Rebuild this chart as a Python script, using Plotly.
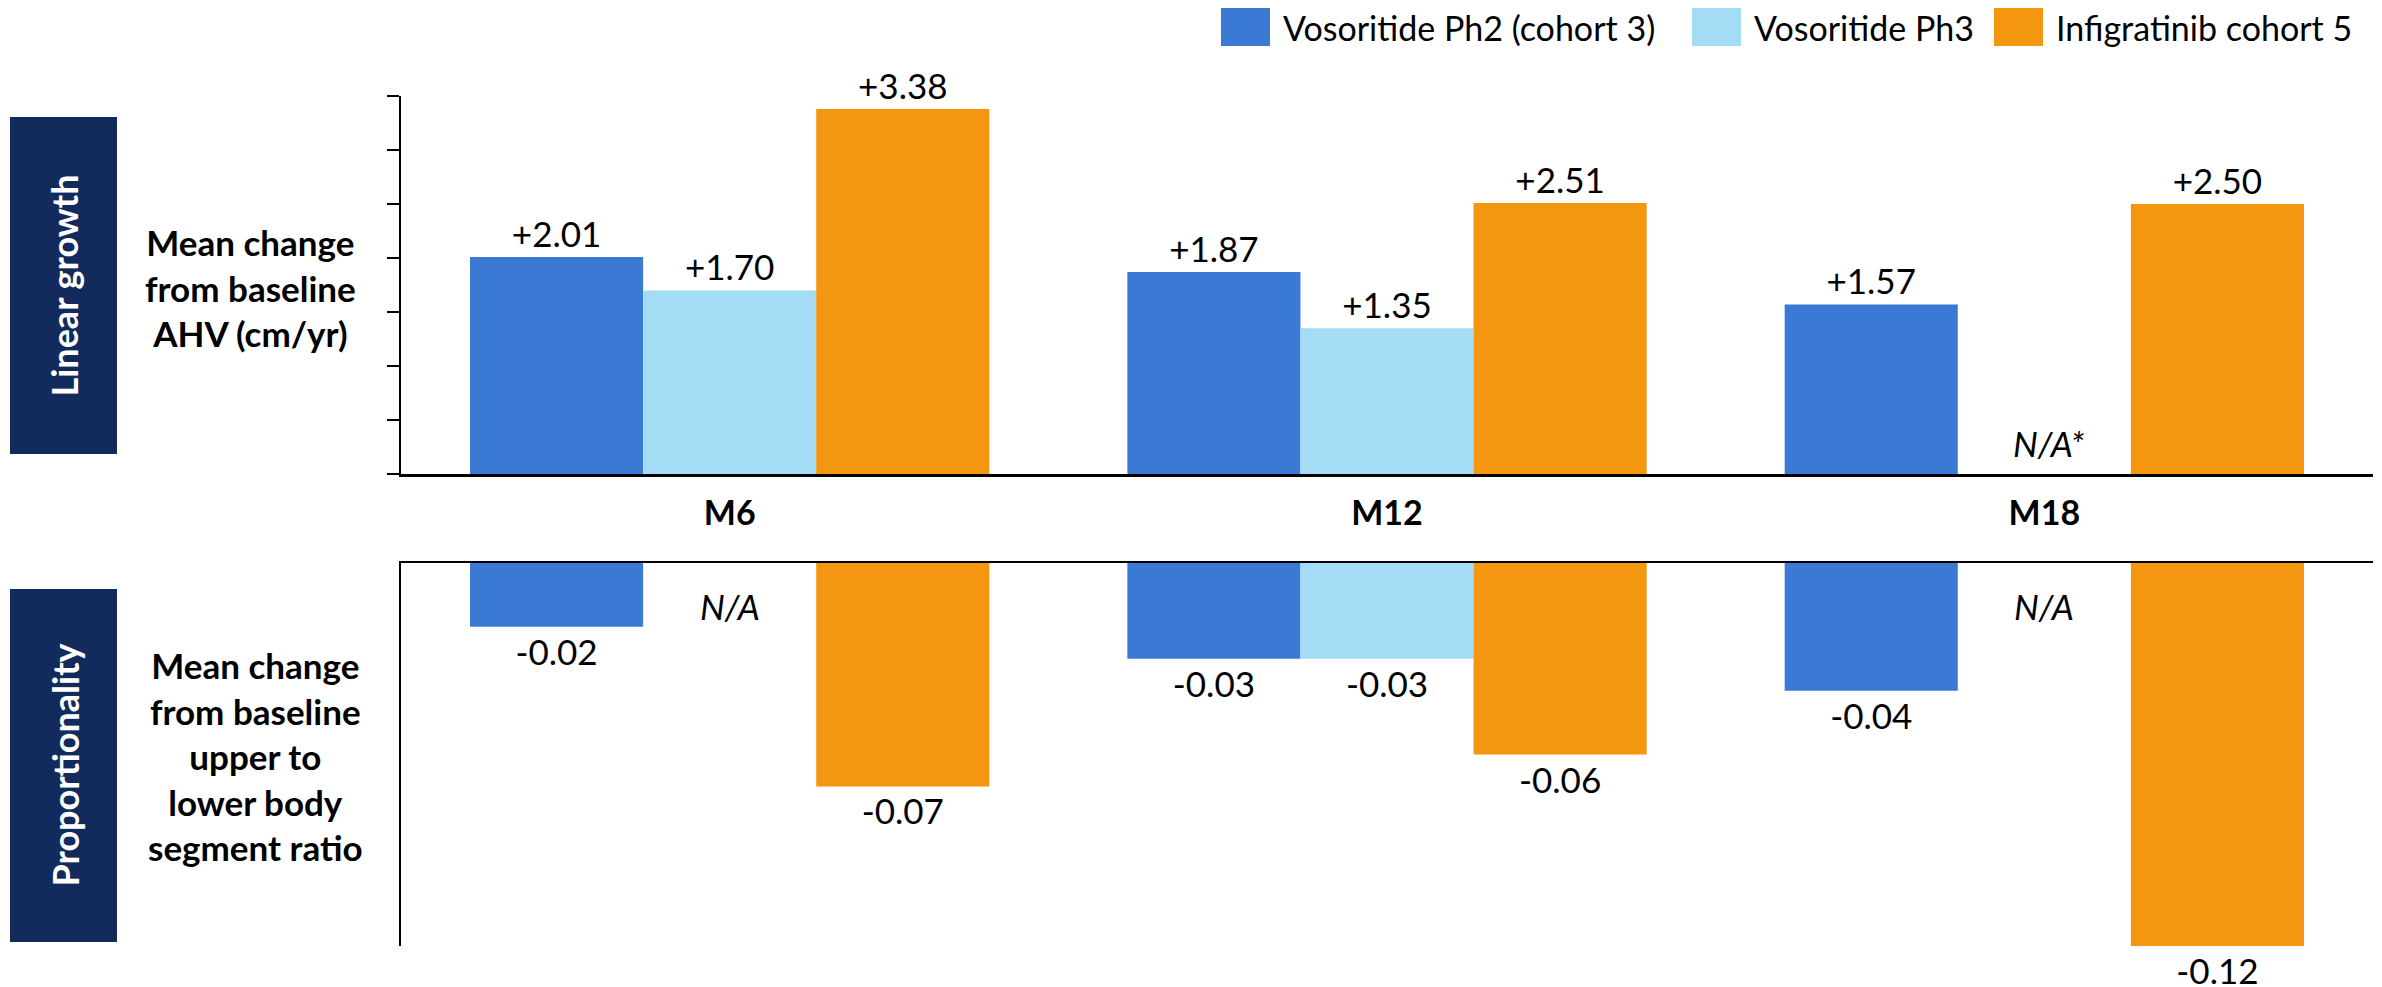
import plotly.graph_objects as go

W, H = 2382, 987
OFF = 8  # page body margin of the html page

categories = ["M6", "M12", "M18"]
series_names = ["Vosoritide Ph2 (cohort 3)", "Vosoritide Ph3", "Infigratinib cohort 5"]
series_colors = ["#3A79D4", "#A4DCF5", "#F4960F"]

# Linear growth: mean change from baseline AHV (cm/yr)
ahv_ph2 = [2.01, 1.87, 1.57]
ahv_ph3 = [1.70, 1.35, None]
ahv_infig = [3.38, 2.51, 2.50]

# Proportionality: mean change in upper to lower body segment ratio
ratio_ph2 = [-0.02, -0.03, -0.04]
ratio_ph3 = [None, -0.03, None]
ratio_infig = [-0.07, -0.06, -0.12]

na_top = ["", "", "N/A*"]
na_bottom = ["N/A", "", "N/A"]

top_tickvals = [0, 0.5, 1.0, 1.5, 2.0, 2.5, 3.0, 3.5]

FONT = "Lato"
NAVY = "#122A5C"


def px_x(p):
    return (p - OFF) / W


def px_y(p):
    return 1 - (p - OFF) / H


def fmt(vals, signed):
    out = []
    for v in vals:
        if v is None:
            out.append("")
        else:
            out.append(f"{v:+.2f}" if signed else f"{v:.2f}")
    return out


fig = go.Figure()

top_series = [ahv_ph2, ahv_ph3, ahv_infig]
bot_series = [ratio_ph2, ratio_ph3, ratio_infig]

for name, color, vals in zip(series_names, series_colors, top_series):
    fig.add_trace(go.Bar(
        x=categories, y=vals, name=name, marker=dict(color=color, line=dict(width=0)),
        text=fmt(vals, True), textposition="outside", cliponaxis=False,
        textfont=dict(family=FONT, size=35, color="black"),
        xaxis="x", yaxis="y", showlegend=False, hoverinfo="skip",
    ))

for name, color, vals in zip(series_names, series_colors, bot_series):
    fig.add_trace(go.Bar(
        x=categories, y=vals, name=name, marker=dict(color=color, line=dict(width=0)),
        text=fmt(vals, False), textposition="outside", cliponaxis=False,
        textfont=dict(family=FONT, size=35, color="black"),
        xaxis="x2", yaxis="y2", showlegend=False, hoverinfo="skip",
    ))

x_dom = [px_x(401), px_x(2373)]

fig.update_layout(
    width=W, height=H,
    margin=dict(l=0, r=0, t=0, b=0),
    paper_bgcolor="white", plot_bgcolor="white",
    barmode="group", bargap=0.21, bargroupgap=0,
    font=dict(family=FONT, color="black"),
    xaxis=dict(domain=x_dom, anchor="y", type="category", categoryorder="array",
               categoryarray=categories, range=[-0.5, 2.5],
               showline=True, linecolor="black", linewidth=3, ticks="",
               showgrid=False, zeroline=False,
               tickfont=dict(family=FONT, size=34, color="black", weight="bold"),
               ticklabelstandoff=7),
    yaxis=dict(domain=[px_y(474), px_y(96)], anchor="x", range=[0, 3.5],
               tickvals=top_tickvals, showticklabels=False, ticks="outside",
               ticklen=12, tickwidth=2, tickcolor="black",
               showline=True, linecolor="black", linewidth=2,
               showgrid=False, zeroline=False),
    xaxis2=dict(domain=x_dom, anchor="y2", type="category", categoryorder="array",
                categoryarray=categories, range=[-0.5, 2.5], side="top",
                showline=True, linecolor="black", linewidth=2, ticks="",
                showticklabels=False, showgrid=False, zeroline=False),
    yaxis2=dict(domain=[px_y(946), px_y(563)], anchor="x2", range=[-0.12, 0],
                showticklabels=False, ticks="", showline=True, linecolor="black",
                linewidth=2, showgrid=False, zeroline=False),
)

annotations = []
shapes = []

# N/A labels (placed at the middle slot of each group)
for cat, t in zip(categories, na_top):
    if t:
        annotations.append(dict(x=cat, y=0, xref="x", yref="y", text=t, showarrow=False,
                                yanchor="bottom", yshift=8, xshift=5,
                                font=dict(family=FONT, size=35, color="black", style="italic")))
for cat, t in zip(categories, na_bottom):
    if t:
        annotations.append(dict(x=cat, y=0, xref="x2", yref="y2", text=t, showarrow=False,
                                yanchor="top", yshift=-20,
                                font=dict(family=FONT, size=35, color="black", style="italic")))

# Left navy boxes
for (y0, y1, label) in [(117, 454, "Linear growth"), (589, 942, "Proportionality")]:
    shapes.append(dict(type="rect", xref="paper", yref="paper",
                       x0=px_x(10), x1=px_x(117), y0=px_y(y1), y1=px_y(y0),
                       fillcolor=NAVY, line=dict(width=0), layer="below"))
    annotations.append(dict(x=px_x(64), y=px_y((y0 + y1) / 2), xref="paper", yref="paper",
                            text="<b>" + label + "</b>", textangle=-90, showarrow=False,
                            xanchor="center", yanchor="middle",
                            font=dict(family=FONT, size=36, color="white")))

# Row descriptions
annotations.append(dict(x=px_x(250), y=px_y(287), xref="paper", yref="paper",
                        text="<b>Mean change<br>from baseline<br>AHV (cm/yr)</b>",
                        showarrow=False, align="center", xanchor="center", yanchor="middle",
                        font=dict(family=FONT, size=35, color="black")))
annotations.append(dict(x=px_x(256), y=px_y(756), xref="paper", yref="paper",
                        text="<b>Mean change<br>from baseline<br>upper to<br>lower body<br>segment ratio</b>",
                        showarrow=False, align="center", xanchor="center", yanchor="middle",
                        font=dict(family=FONT, size=35, color="black")))

# Legend (custom swatches)
legend_swatch_x = [1221, 1692, 1994]
for name, color, sx in zip(series_names, series_colors, legend_swatch_x):
    shapes.append(dict(type="rect", xref="paper", yref="paper",
                       x0=px_x(sx), x1=px_x(sx + 49), y0=px_y(46), y1=px_y(8),
                       fillcolor=color, line=dict(width=0)))
    annotations.append(dict(x=px_x(sx + 60), y=px_y(27), xref="paper", yref="paper",
                            text=name, showarrow=False, xanchor="left", yanchor="middle",
                            font=dict(family=FONT, size=34, color="black")))

fig.update_layout(annotations=annotations, shapes=shapes)

fig.write_html("out.html")
